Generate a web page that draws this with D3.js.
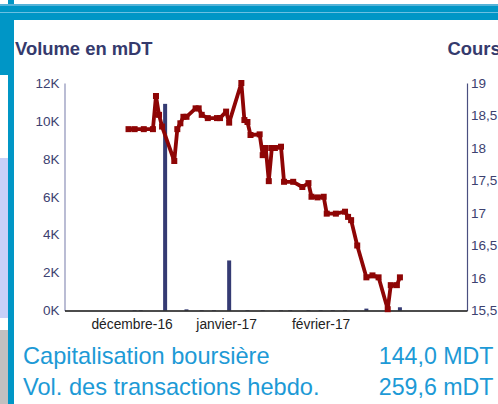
<!DOCTYPE html>
<html><head><meta charset="utf-8">
<script src="https://cdn.jsdelivr.net/npm/d3@7"></script>
<style>html,body{margin:0;padding:0;background:#fff;overflow:hidden}</style>
</head><body><svg id="c" width="498" height="404"></svg>
<script>
const priceDates = ["2016-11-30","2016-12-02","2016-12-05","2016-12-08","2016-12-09","2016-12-10","2016-12-11","2016-12-15","2016-12-16","2016-12-17","2016-12-18","2016-12-19","2016-12-22","2016-12-23","2016-12-24","2016-12-26","2016-12-29","2016-12-30","2017-01-01","2017-01-02","2017-01-06","2017-01-07","2017-01-08","2017-01-09","2017-01-12","2017-01-13","2017-01-14","2017-01-15","2017-01-16","2017-01-17","2017-01-19","2017-01-20","2017-01-23","2017-01-26","2017-01-28","2017-01-29","2017-01-31","2017-02-02","2017-02-03","2017-02-06","2017-02-09","2017-02-10","2017-02-11","2017-02-13","2017-02-16","2017-02-18","2017-02-20","2017-02-23","2017-02-24","2017-02-26","2017-02-27"];
const priceValues = [18.29,18.29,18.29,18.29,18.80,18.51,18.33,17.80,18.29,18.38,18.48,18.48,18.61,18.61,18.51,18.46,18.46,18.46,18.56,18.39,19.00,18.43,18.40,18.20,18.21,17.89,18.00,17.49,18.00,18.00,18.02,17.48,17.48,17.40,17.46,17.25,17.24,17.25,16.99,16.99,17.02,16.94,16.89,16.50,16.01,16.04,16.01,15.52,15.89,15.89,16.01];
const volumeDates = ["2016-12-02","2016-12-04","2016-12-12","2016-12-19","2016-12-24","2016-12-28","2017-01-02","2017-01-08","2017-01-13","2017-01-19","2017-01-22","2017-01-28","2017-02-01","2017-02-05","2017-02-09","2017-02-16","2017-02-23","2017-02-27"];
const volumeValues = [20,20,10900,60,20,20,2640,20,20,20,20,20,20,20,20,100,20,170];
const leftTicks = [0,2000,4000,6000,8000,10000,12000];
const leftTickLabels = ["0K","2K","4K","6K","8K","10K","12K"];
const rightTicks = [15.5,16,16.5,17,17.5,18,18.5,19];
const rightTickLabels = ["15,5","16","16,5","17","17,5","18","18,5","19"];
const monthTicks = ["2016-12-01","2017-01-01","2017-02-01"];
const monthLabels = ["décembre-16","janvier-17","février-17"];
const summaryLabels = ["Capitalisation boursière","Vol. des transactions hebdo."];
const summaryValues = ["144,0 MDT","259,6 mDT"];

const svg = d3.select("#c");
const font = "'Liberation Sans', Arial, sans-serif";
const parse = d3.utcParse("%Y-%m-%d");

// frame decorations
svg.append("rect").attr("x",0).attr("y",4).attr("width",8).attr("height",71).attr("fill","#0096c6");
svg.append("rect").attr("x",0).attr("y",158).attr("width",8).attr("height",160).attr("fill","#c8d0f8");
svg.append("rect").attr("x",0).attr("y",330).attr("width",8).attr("height",74).attr("fill","#c0c0c0");
svg.append("rect").attr("x",8).attr("y",0).attr("width",6).attr("height",404).attr("fill","#0096c6");
svg.append("rect").attr("x",0).attr("y",4).attr("width",498).attr("height",16).attr("fill","#0096c6");
svg.append("rect").attr("x",0).attr("y",4).attr("width",498).attr("height",2).attr("fill","#55b3d8");
svg.append("rect").attr("x",0).attr("y",12).attr("width",498).attr("height",1).attr("fill","#6cc0e2");

const x = d3.scaleUtc().domain([parse("2016-11-09"), parse("2017-03-21")]).range([64.5, 467]);
const yL = d3.scaleLinear().domain([0,12000]).range([310.5,83]);
const yR = d3.scaleLinear().domain([15.5,19]).range([310.5,83]);

// titles
svg.append("text").attr("x",15).attr("y",55).attr("font-family",font).attr("font-weight","bold")
  .attr("font-size",18.4).attr("fill","#353a6d").text("Volume en mDT");
svg.append("text").attr("x",447.5).attr("y",55).attr("font-family",font).attr("font-weight","bold")
  .attr("font-size",18.4).attr("fill","#353a6d").text("Cours");

// bars
const vol = volumeDates.map((d,i)=>({d:parse(d), v:volumeValues[i]}));
svg.append("g").selectAll("rect").data(vol).join("rect")
  .attr("x", d=>x(d.d)-2).attr("width",4)
  .attr("y", d=>yL(d.v)).attr("height", d=>yL(0)-yL(d.v))
  .attr("fill","#353b73");

// left axis
const gL = svg.append("g").attr("transform","translate(64.5,0)")
  .call(d3.axisLeft(yL).tickValues(leftTicks).tickSize(0).tickPadding(5)
    .tickFormat((d,i)=>leftTickLabels[i]));
gL.select(".domain").attr("stroke","#8c90b8").attr("stroke-width",1.2);
gL.selectAll("text").attr("font-family",font).attr("font-size",13.5).attr("fill","#3c4170");

// right axis
const gR = svg.append("g").attr("transform","translate(467,0)")
  .call(d3.axisRight(yR).tickValues(rightTicks).tickSize(0).tickPadding(4)
    .tickFormat((d,i)=>rightTickLabels[i]));
gR.select(".domain").attr("stroke","#4a4f80").attr("stroke-width",1.2);
gR.selectAll("text").attr("font-family",font).attr("font-size",13.5).attr("fill","#3c4170");

// bottom axis
const gB = svg.append("g").attr("transform","translate(0,310.5)")
  .call(d3.axisBottom(x).tickValues(monthTicks.map(parse)).tickSize(0).tickPadding(6)
    .tickFormat((d,i)=>monthLabels[i]));
gB.select(".domain").attr("stroke","#111").attr("stroke-width",1.5);
gB.selectAll("text").attr("font-family",font).attr("font-size",13.8).attr("fill","#222").attr("dy","0.9em");

// price line
const pr = priceDates.map((d,i)=>({d:parse(d), v:priceValues[i]}));
svg.append("path").datum(pr)
  .attr("d", d3.line().x(d=>x(d.d)).y(d=>yR(d.v)))
  .attr("fill","none").attr("stroke","#8e0505").attr("stroke-width",3.8).attr("stroke-linejoin","round");
svg.append("g").selectAll("rect").data(pr).join("rect")
  .attr("x", d=>x(d.d)-3).attr("y", d=>yR(d.v)-3).attr("width",6).attr("height",6)
  .attr("fill","#8e0505");

// summary
summaryLabels.forEach((t,i)=>{
  svg.append("text").attr("x",23).attr("y",364+i*31).attr("font-family",font)
    .attr("font-size",23.6).attr("fill","#1d9ad6").text(t);
  svg.append("text").attr("x",493.5).attr("y",364+i*31).attr("text-anchor","end").attr("font-family",font)
    .attr("font-size",23.2).attr("fill","#1d9ad6").text(summaryValues[i]);
});
</script></body></html>
